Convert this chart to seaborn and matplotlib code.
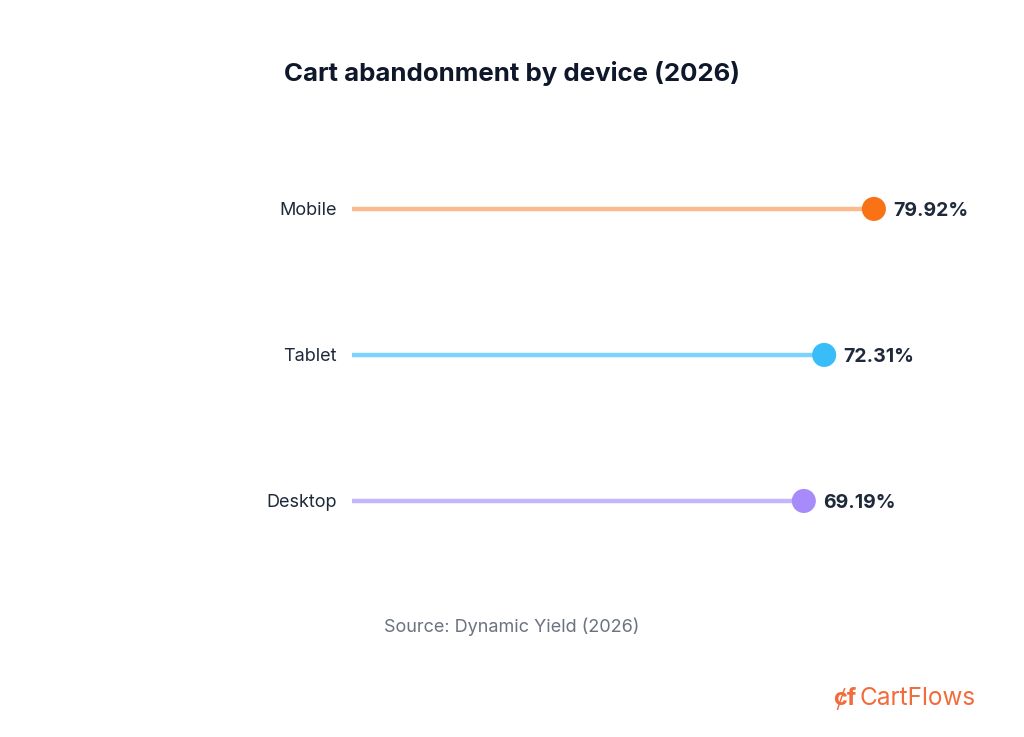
import matplotlib
matplotlib.use("Agg")
import matplotlib.pyplot as plt
import seaborn as sns
import pandas as pd

# data
devices = ["Mobile", "Tablet", "Desktop"]
rates = [79.92, 72.31, 69.19]
dot_colors = ["#F97316", "#38BDF8", "#A78BFA"]
line_colors = ["#FDBA8C", "#7DD3FC", "#C4B5FD"]

df = pd.DataFrame({"device": devices, "rate": rates})

sns.set_theme(style="white")
plt.rcParams["font.family"] = ["Inter", "DejaVu Sans"]

fig = plt.figure(figsize=(10.24, 7.37), dpi=100)
ax = fig.add_axes([0.34375, 0.2014, 0.6377, 0.634])

ypos = list(range(len(devices)))
ax.hlines(ypos, 0, df["rate"], colors=line_colors, linewidth=3.2, zorder=1)
sns.scatterplot(data=df, x="rate", y=ypos, hue="device", palette=dot_colors,
                s=300, edgecolor="none", legend=False, zorder=3, ax=ax)

for y, v in zip(ypos, rates):
    ax.annotate(f"{v:.2f}%", (v, y), xytext=(14, -1.5), textcoords="offset points",
                va="center", ha="left", fontsize=14, fontweight="bold",
                color="#1E293B")

ax.set_xlim(0, 100)
ax.set_ylim(2.6, -0.6)
ax.set_yticks(ypos)
ax.set_yticklabels(devices, fontsize=13, color="#1E293B")
ax.tick_params(axis="y", length=0, pad=11)
ax.set_xticks([])
ax.set_xlabel("")
ax.set_ylabel("")
sns.despine(ax=ax, left=True, bottom=True)

fig.text(0.5, 0.90, "Cart abandonment by device (2026)", ha="center", va="center",
         fontsize=18.6, fontweight="bold", color="#0F172A")
fig.text(0.5, 0.149, "Source: Dynamic Yield (2026)", ha="center", va="center",
         fontsize=13, color="#6B7280")
fig.text(0.953, 0.052, "CartFlows", ha="right", va="center",
         fontsize=17.5, color="#F26B3A")
fig.text(0.825, 0.052, "ȼf", ha="center", va="center",
         fontsize=17, fontweight="bold", color="#F26B3A")

fig.savefig("out.png", dpi=100)
